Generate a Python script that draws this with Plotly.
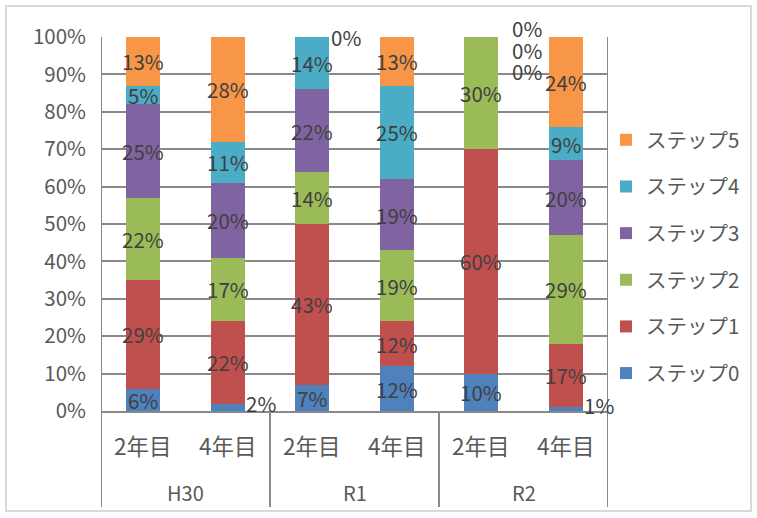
import plotly.graph_objects as go

groups = ["H30", "R1", "R2"]
years = ["2年目", "4年目"]
series_names = ["ステップ0", "ステップ1", "ステップ2", "ステップ3", "ステップ4", "ステップ5"]
step0 = [6, 2, 7, 12, 10, 1]
step1 = [29, 22, 43, 12, 60, 17]
step2 = [22, 17, 14, 19, 30, 29]
step3 = [25, 20, 22, 19, 0, 20]
step4 = [5, 11, 14, 25, 0, 9]
step5 = [13, 28, 0, 13, 0, 24]
y_ticks = [0, 10, 20, 30, 40, 50, 60, 70, 80, 90, 100]
y_tick_labels = ["0%", "10%", "20%", "30%", "40%", "50%", "60%", "70%", "80%", "90%", "100%"]

series = [step0, step1, step2, step3, step4, step5]
colors = ["#4F81BD", "#C0504D", "#9BBB59", "#8064A2", "#4BACC6", "#F79646"]
FONT = "Noto Sans CJK JP"
LABEL_SIZE = 20.5
n = len(groups) * len(years)
xs = list(range(n))
BAR_W = 0.4
LABEL_FONT = dict(family=FONT, size=LABEL_SIZE, color="#404040")

fig = go.Figure()
for i, (name, vals) in enumerate(zip(series_names, series)):
    fig.add_trace(go.Bar(
        x=xs, y=vals, name=name, width=BAR_W,
        marker=dict(color=colors[i], line=dict(width=0)),
        legendgroup=name, legendrank=100 - i,
    ))

annotations = []
# data labels
zero_shift = {3: -34, 4: -13, 5: 9}
for j in xs:
    cum = 0
    zero_count = sum(1 for s in series if s[j] == 0)
    for i, vals in enumerate(series):
        v = vals[j]
        mid = cum + v / 2
        cum += v
        if v == 0:
            if zero_count > 1:
                annotations.append(dict(x=j + BAR_W / 2, y=100, xref="x", yref="y",
                                        text="0%", showarrow=False, xanchor="left",
                                        xshift=12, yshift=zero_shift.get(i, 0),
                                        font=LABEL_FONT))
            else:
                annotations.append(dict(x=j + BAR_W / 2, y=cum, xref="x", yref="y",
                                        text="0%", showarrow=False, xanchor="left",
                                        xshift=0, font=LABEL_FONT))
        elif v <= 2:
            annotations.append(dict(x=j + BAR_W / 2, y=mid, xref="x", yref="y",
                                    text=f"{v}%", showarrow=False, xanchor="left", xshift=-1,
                                    yshift=4, font=LABEL_FONT))
        else:
            annotations.append(dict(x=j, y=mid, xref="x", yref="y",
                                    text=f"{v}%", showarrow=False, font=LABEL_FONT))

# category labels
for g, grp in enumerate(groups):
    for k, yr in enumerate(years):
        annotations.append(dict(x=g * 2 + k, y=-0.09, xref="x", yref="paper",
                                text=yr, showarrow=False, yanchor="middle",
                                font=dict(family=FONT, size=22.5, color="#595959")))
    annotations.append(dict(x=g * 2 + 0.5, y=-0.217, xref="x", yref="paper",
                            text=grp, showarrow=False, yanchor="middle",
                            font=dict(family=FONT, size=20, color="#595959")))

LINE = "#898989"
shapes = []
ext = -0.257
for b in [-0.5, 5.5]:
    shapes.append(dict(type="line", x0=b, x1=b, y0=ext, y1=1, xref="x", yref="paper",
                       line=dict(color=LINE, width=2)))
for b in [1.5, 3.5]:
    shapes.append(dict(type="line", x0=b, x1=b, y0=ext, y1=0, xref="x", yref="paper",
                       line=dict(color=LINE, width=2)))

W, H = 757, 518
ml, mr, mt, mb = 101, 149, 37, 107
pw, ph = W - ml - mr, H - mt - mb
# outer chart border
shapes.append(dict(type="rect", xref="paper", yref="paper",
                   x0=(6 - ml) / pw, x1=(751 - ml) / pw,
                   y0=(H - 511 - mb) / ph, y1=(H - 6 - mb) / ph,
                   line=dict(color="#D9D9D9", width=2), layer="below"))

fig.update_layout(
    width=W, height=H,
    margin=dict(l=ml, r=mr, t=mt, b=mb, pad=0, autoexpand=False),
    barmode="stack",
    plot_bgcolor="white", paper_bgcolor="white",
    font=dict(family=FONT, size=LABEL_SIZE, color="#595959"),
    xaxis=dict(range=[-0.5, 5.5], showticklabels=False, showgrid=False, zeroline=False,
               showline=True, linecolor=LINE, linewidth=2, ticks="", fixedrange=True),
    yaxis=dict(range=[0, 100], tickvals=y_ticks, ticktext=y_tick_labels,
               showgrid=True, gridcolor=LINE, gridwidth=2, zeroline=False,
               showline=False, ticks="", ticklabelstandoff=14,
               tickfont=dict(family=FONT, size=LABEL_SIZE, color="#595959")),
    legend=dict(x=(606 - ml) / pw, y=(H - 120 - mb) / ph, xanchor="left", yanchor="top",
                traceorder="grouped", tracegroupgap=17,
                font=dict(family=FONT, size=LABEL_SIZE, color="#595959"),
                itemwidth=30, bgcolor="rgba(0,0,0,0)"),
    annotations=annotations,
    shapes=shapes,
)

fig.write_html("out.html")
